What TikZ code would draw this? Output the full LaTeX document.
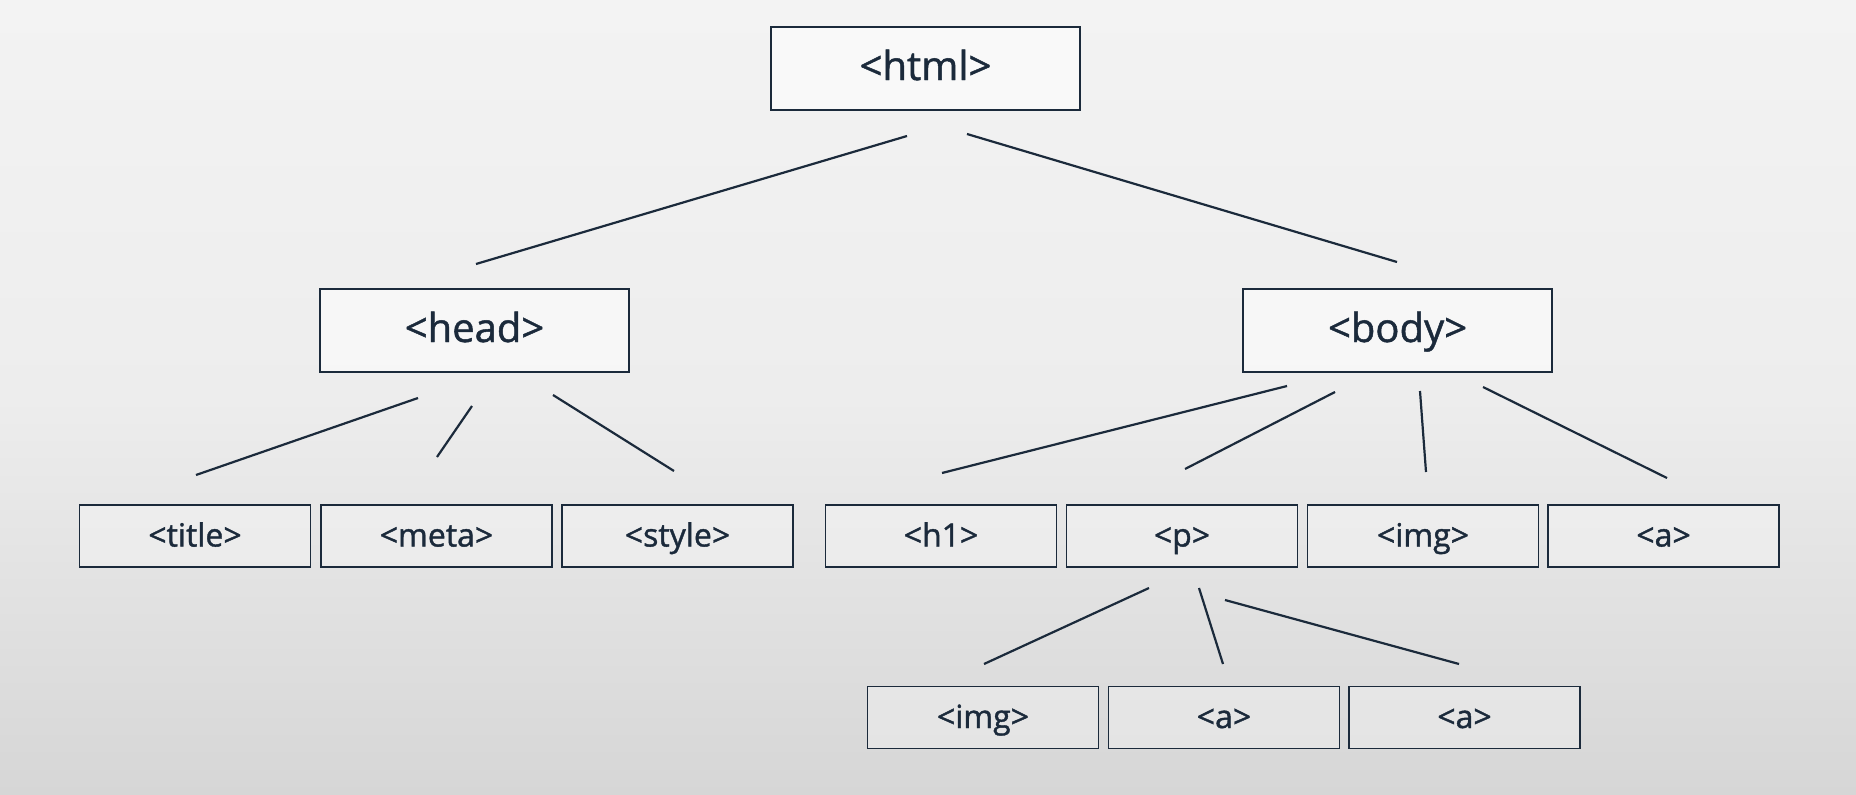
\documentclass[tikz,border=0pt]{standalone}
\usepackage{fontspec}
\setmainfont{Open Sans}
\newfontfamily\labelfont{Open Sans}[FakeBold=1.2]
\definecolor{ink}{HTML}{1B2A3B}
\definecolor{bgtop}{HTML}{F3F3F3}
\definecolor{bgmid}{HTML}{EDEDED}
\definecolor{bgbot}{HTML}{D6D6D6}
\begin{document}
\begin{tikzpicture}[x=1pt,y=-1pt,
  bigbox/.style={draw=ink,line width=2.4pt,fill=white,fill opacity=0.55,text opacity=1,minimum width=309pt,minimum height=83pt,inner sep=0pt,text height=31pt,text depth=8pt,font=\labelfont\fontsize{40}{48}\selectfont,text=ink},
  smallbox/.style={draw=ink,line width=1.8pt,fill=white,fill opacity=0.3,text opacity=1,minimum width=231pt,minimum height=62pt,inner sep=0pt,text height=26pt,text depth=5pt,font=\labelfont\fontsize{32}{38}\selectfont,text=ink},
  edge/.style={draw=ink,line width=2.2pt}]
\useasboundingbox (0,0) rectangle (1856,795);
\shade[top color=bgtop,bottom color=bgbot,middle color=bgmid] (0,0) rectangle (1856,795);
% nodes
\node[bigbox] (html) at (925.5,68.5) {<html>};
\node[bigbox] (head) at (474.5,330.5) {<head>};
\node[bigbox] (body) at (1397.5,330.5) {<body>};
\node[smallbox] (title) at (195,536) {<title>};
\node[smallbox] (meta) at (436.5,536) {<meta>};
\node[smallbox] (style) at (677.5,536) {<style>};
\node[smallbox] (h1) at (941,536) {<h1>};
\node[smallbox] (p) at (1182,536) {<p>};
\node[smallbox] (img) at (1423,536) {<img>};
\node[smallbox] (a) at (1663.5,536) {<a>};
\node[smallbox] (pimg) at (983,717.5) {<img>};
\node[smallbox] (pa) at (1224,717.5) {<a>};
\node[smallbox] (pb) at (1464.5,717.5) {<a>};
% connector ends
\coordinate (e1a) at (907,136);  \coordinate (e1b) at (476,264);
\coordinate (e2a) at (967,134);  \coordinate (e2b) at (1397,262);
\coordinate (e3a) at (418,398);  \coordinate (e3b) at (196,475);
\coordinate (e4a) at (472,406);  \coordinate (e4b) at (437,457);
\coordinate (e5a) at (553,395);  \coordinate (e5b) at (674,471);
\coordinate (e6a) at (1287,386); \coordinate (e6b) at (942,473);
\coordinate (e7a) at (1335,392); \coordinate (e7b) at (1185,469);
\coordinate (e8a) at (1420,391); \coordinate (e8b) at (1426,472);
\coordinate (e9a) at (1483,387); \coordinate (e9b) at (1667,478);
\coordinate (e10a) at (1149,588); \coordinate (e10b) at (984,664);
\coordinate (e11a) at (1199,588); \coordinate (e11b) at (1223,664);
\coordinate (e12a) at (1225,600); \coordinate (e12b) at (1459,664);
\foreach \i in {1,...,12} {\draw[edge] (e\i a) -- (e\i b);}
\end{tikzpicture}
\end{document}
